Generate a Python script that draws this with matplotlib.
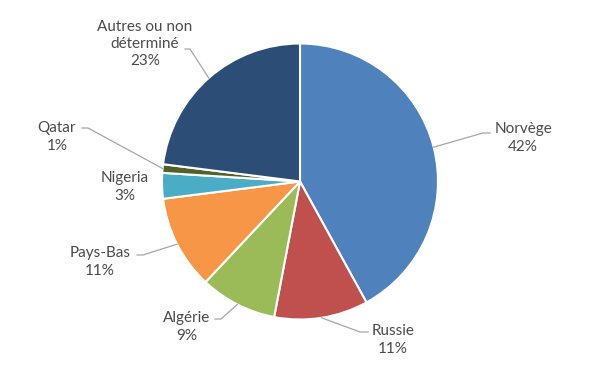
import numpy as np
import matplotlib
matplotlib.use("Agg")
import matplotlib.pyplot as plt

plt.rcParams['font.family'] = ['Lato', 'DejaVu Sans']

labels = ["Norvège", "Russie", "Algérie", "Pays-Bas", "Nigeria", "Qatar", "Autres ou non\ndéterminé"]
values = [42, 11, 9, 11, 3, 1, 23]
colors = ["#4F81BD", "#C0504D", "#9BBB59", "#F79646", "#4BACC6", "#4F6228", "#2C4D75"]

W, H = 600, 368
cx, cy, r = 300, H - 181.5, 138

# label centres and leader elbows, in pixel coords (y from top)
text_pos = [(523, 138), (393, 340), (187, 327), (100, 262), (125, 187), (57, 137), (145, 44)]
elbows = [[(483, 133), (490, 133)],
          [(360, 332), (368, 332)],
          [(221, 319), (215, 319)],
          [(143, 255), (137, 255)],
          None,
          [(88, 128), (82, 128)],
          [(190, 49), (185, 49)]]

fig = plt.figure(figsize=(6, 3.68), dpi=100)
ax = fig.add_axes([0, 0, 1, 1])

wedges, _ = ax.pie(values, colors=colors, startangle=90, counterclock=False,
                   center=(cx, cy), radius=r,
                   wedgeprops=dict(edgecolor="white", linewidth=1.5))
ax.set_aspect("auto")
ax.set_xlim(0, W)
ax.set_ylim(0, H)
ax.axis("off")

for w, lab, v, tp, el in zip(wedges, labels, values, text_pos, elbows):
    ang = np.deg2rad((w.theta1 + w.theta2) / 2)
    ex, ey = cx + r * np.cos(ang), cy + r * np.sin(ang)
    if el is not None:
        xs = [ex] + [p[0] for p in el]
        ys = [ey] + [H - p[1] for p in el]
        ax.plot(xs, ys, color="#A6A6A6", lw=0.9)
    ax.text(tp[0], H - tp[1], f"{lab}\n{v}%", ha="center", va="center",
            fontsize=11, color="#4A4A4A", linespacing=1.3)

fig.savefig("out.png", dpi=100)
